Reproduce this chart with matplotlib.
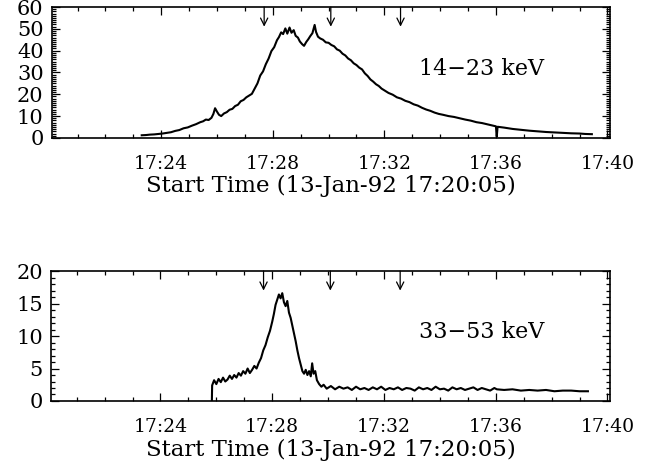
import matplotlib
matplotlib.use("Agg")
import matplotlib.pyplot as plt
from matplotlib.ticker import MultipleLocator, FixedLocator

# time in minutes after 17:20:00
lo_t = [3.30, 3.45, 3.60, 3.75, 3.90, 4.05, 4.20, 4.35, 4.50, 4.65, 4.80, 4.95,
        5.10, 5.25, 5.40, 5.50, 5.60, 5.70, 5.80, 5.87, 5.93, 6.00, 6.07, 6.15,
        6.25, 6.35, 6.45, 6.55, 6.65, 6.75, 6.85, 6.95, 7.05, 7.15, 7.25, 7.35,
        7.45, 7.55, 7.65, 7.75, 7.85, 7.95, 8.05, 8.15, 8.22, 8.30, 8.37, 8.45,
        8.52, 8.60, 8.67, 8.75, 8.82, 8.90, 8.97, 9.05, 9.12, 9.20, 9.27, 9.35,
        9.42, 9.50, 9.55, 9.62, 9.70, 9.80, 9.90, 10.00, 10.10, 10.20, 10.30,
        10.40, 10.50, 10.60, 10.70, 10.80, 10.90, 11.00, 11.10, 11.20, 11.30,
        11.40, 11.50, 11.60, 11.70, 11.80, 11.90, 12.00, 12.15, 12.30, 12.45,
        12.60, 12.75, 12.90, 13.05, 13.20, 13.35, 13.50, 13.65, 13.80, 13.95,
        14.10, 14.30, 14.50, 14.70, 14.90, 15.10, 15.30, 15.50, 15.70, 15.90,
        16.00, 16.03, 16.06, 16.30, 16.60, 16.90, 17.20, 17.50, 17.80, 18.10,
        18.40, 18.70, 19.00, 19.20, 19.44]
lo_v = [1.2, 1.3, 1.5, 1.6, 1.8, 2.0, 2.3, 2.6, 3.2, 3.6, 4.4, 4.8,
        5.6, 6.3, 7.2, 7.6, 8.4, 8.2, 9.2, 11.0, 13.6, 12.0, 10.6, 10.0,
        11.2, 11.8, 12.9, 13.3, 14.6, 15.2, 16.8, 17.4, 18.6, 19.4, 20.2, 22.6,
        25.0, 28.6, 30.5, 33.8, 36.4, 39.8, 41.6, 44.8, 46.2, 48.4, 47.6, 50.2,
        47.8, 50.6, 48.2, 49.4, 46.8, 46.0, 44.2, 43.0, 42.2, 44.0, 45.2, 46.8,
        48.0, 51.8, 48.6, 46.4, 45.6, 45.0, 43.8, 43.6, 42.6, 42.0, 40.6,
        40.0, 38.6, 37.8, 36.4, 35.6, 34.2, 33.4, 32.2, 31.4, 29.6,
        28.4, 26.8, 25.8, 24.6, 23.8, 22.6, 21.8, 20.6, 19.8, 18.6,
        18.0, 17.0, 16.4, 15.4, 14.8, 13.8, 13.0, 12.4, 11.6, 11.0,
        10.6, 10.0, 9.6, 9.0, 8.4, 7.9, 7.2, 6.8, 6.2, 5.6,
        5.3, 0.6, 5.1, 4.7, 4.1, 3.7, 3.3, 3.0, 2.7, 2.5,
        2.3, 2.1, 2.0, 1.8, 1.7]

hi_t = [5.84, 5.85, 5.92, 6.00, 6.08, 6.16, 6.24, 6.32, 6.40, 6.48, 6.56,
        6.64, 6.72, 6.80, 6.88, 6.96, 7.04, 7.12, 7.20, 7.28, 7.36, 7.44,
        7.52, 7.60, 7.68, 7.76, 7.84, 7.92, 8.00, 8.06, 8.12, 8.18, 8.24,
        8.30, 8.36, 8.42, 8.48, 8.54, 8.60, 8.66, 8.72, 8.78, 8.84, 8.90,
        8.96, 9.02, 9.08, 9.14, 9.20, 9.26, 9.32, 9.38, 9.43, 9.48, 9.54,
        9.60, 9.68, 9.76, 9.84, 9.95, 10.10, 10.25, 10.40, 10.55, 10.70,
        10.85, 11.00, 11.15, 11.30, 11.45, 11.60, 11.75, 11.90, 12.05, 12.20,
        12.35, 12.50, 12.65, 12.80, 12.95, 13.10, 13.25, 13.40, 13.55, 13.70,
        13.85, 14.00, 14.15, 14.30, 14.45, 14.60, 14.75, 14.90, 15.05, 15.20,
        15.35, 15.50, 15.65, 15.80, 15.95, 16.04, 16.30, 16.60, 16.90, 17.20,
        17.50, 17.80, 18.10, 18.40, 18.70, 19.00, 19.30]
hi_v = [0.0, 2.4, 3.2, 2.6, 3.4, 2.9, 3.6, 3.0, 3.3, 3.9, 3.4,
        4.0, 3.6, 4.3, 3.9, 4.6, 4.2, 5.0, 4.3, 4.8, 5.4, 5.0,
        5.9, 6.6, 7.8, 8.6, 9.8, 10.8, 12.2, 13.4, 14.8, 15.6, 16.4,
        15.8, 16.6, 15.2, 14.6, 15.4, 13.6, 12.8, 11.6, 10.4, 9.2, 7.8,
        6.6, 5.6, 4.6, 4.2, 4.8, 4.0, 4.6, 3.8, 5.8, 4.2, 4.6,
        3.2, 2.6, 2.2, 2.5, 1.9, 2.3, 1.8, 2.2, 1.9, 2.1,
        1.7, 2.2, 1.8, 2.0, 1.7, 2.1, 1.8, 2.2, 1.7, 2.0,
        1.8, 2.1, 1.7, 2.0, 1.9, 1.6, 2.1, 1.8, 2.0, 1.7,
        2.2, 1.8, 1.9, 1.6, 2.1, 1.8, 2.0, 1.7, 1.9, 2.1,
        1.7, 2.0, 1.8, 1.6, 2.0, 1.8, 1.7, 1.8, 1.6, 1.7,
        1.6, 1.7, 1.5, 1.6, 1.6, 1.5, 1.5]

arrow_t = [7.69, 10.08, 12.58]
tick_t = [4, 8, 12, 16, 20]
tick_lab = ["17:24", "17:28", "17:32", "17:36", "17:40"]
xlabel = "Start Time (13-Jan-92 17:20:05)"

plt.rcParams["font.family"] = "DejaVu Serif"
fig = plt.figure(figsize=(6.55, 4.69), dpi=100)
ax1 = fig.add_axes([0.0794, 0.706, 0.8516, 0.279])
ax2 = fig.add_axes([0.0779, 0.145, 0.8531, 0.277])


def style(ax, ymax, ymaj, ymin, label):
    ax.set_xlim(5 / 60, 20 + 5 / 60)
    ax.set_ylim(0, ymax)
    ax.xaxis.set_major_locator(FixedLocator(tick_t))
    ax.set_xticklabels(tick_lab)
    ax.xaxis.set_minor_locator(MultipleLocator(1))
    ax.yaxis.set_major_locator(MultipleLocator(ymaj))
    ax.yaxis.set_minor_locator(MultipleLocator(ymin))
    ax.tick_params(which="both", direction="in", top=True, right=True,
                   width=0.9)
    ax.tick_params(which="major", length=6)
    ax.tick_params(which="minor", length=3)
    ax.tick_params(axis="x", pad=12, labelsize=13.5)
    ax.tick_params(axis="y", pad=6, labelsize=15)
    for s in ax.spines.values():
        s.set_linewidth(1.2)
    ax.set_xlabel(xlabel, fontsize=16.5, labelpad=2)
    ax.text(0.77, 0.53, label, transform=ax.transAxes, fontsize=16,
            ha="center", va="center")
    for t in arrow_t:
        ax.annotate("", xy=(t, 0.85), xytext=(t, 1.0),
                    xycoords=("data", "axes fraction"),
                    arrowprops=dict(arrowstyle="->", lw=0.9, color="black",
                                    mutation_scale=13, shrinkA=0, shrinkB=0))


ax1.plot(lo_t, lo_v, color="black", lw=1.5)
style(ax1, 60, 10, 1, "14\u221223 keV")
ax2.plot(hi_t, hi_v, color="black", lw=1.5)
style(ax2, 20, 5, 1, "33\u221253 keV")

fig.savefig("out.png", dpi=100)
